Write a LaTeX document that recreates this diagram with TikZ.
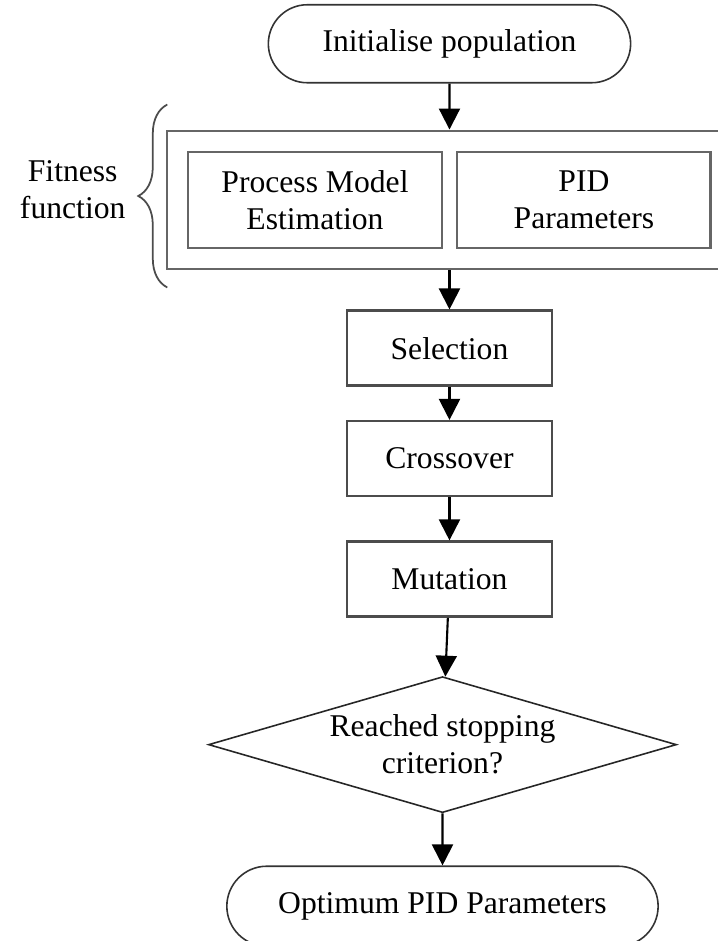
\documentclass[tikz,border=0pt]{standalone}
\usepackage{fontspec}
\setmainfont{Liberation Serif}
\usetikzlibrary{positioning,fit,calc,shapes.misc,shapes.geometric,arrows.meta,decorations.pathreplacing}

\begin{document}
\begin{tikzpicture}[
    font=\fontsize{18pt}{21pt}\selectfont,
    terminal/.style={rounded rectangle, draw=black!80, line width=0.9pt, minimum height=1.56cm},
    procbox/.style={rectangle, draw=black!70, line width=1.4pt, minimum width=4.1cm, minimum height=1.5cm},
    inbox/.style={rectangle, draw=black!60, line width=1.4pt, align=center, minimum width=5.07cm, minimum height=1.92cm},
    outbox/.style={rectangle, draw=black!60, line width=1.4pt, inner sep=0.4cm},
    decision/.style={diamond, draw=black!85, line width=0.9pt, align=center, aspect=3.44, inner sep=0pt, minimum width=9.36cm, minimum height=2.72cm},
    flow/.style={-{Triangle[length=0.42cm,width=0.42cm]}, line width=1.2pt}
  ]
  \useasboundingbox (0,0) rectangle (14.34,-18.82);

  \node (pme) [inbox] at (6.30,-4.00) {Process Model\\Estimation};
  \node (pid) [inbox, right=0.26cm of pme] {PID\\Parameters};
  \node (fit) [outbox, fit=(pme)(pid)] {};
  \node (init) [terminal, minimum width=7.48cm, above=0.92cm of fit] {Initialise population};
  \node (sel) [procbox, below=0.78cm of fit] {Selection};
  \node (cross) [procbox, below=0.66cm of sel] {Crossover};
  \node (mut) [procbox, below=0.86cm of cross] {Mutation};
  \node (stop) [decision, below=1.16cm of mut, xshift=-0.14cm] {Reached stopping\\criterion?};
  \node (opt) [terminal, minimum width=8.86cm, minimum height=1.6cm, below=1.04cm of stop] {Optimum PID Parameters};

  % brace round the fitness function
  \coordinate (bb) at ($(fit.south west)+(0.03,-0.34)$);
  \coordinate (bt) at ($(fit.north west)+(0.03,0.5)$);
  \draw[decorate, decoration={brace, amplitude=0.58cm}, draw=black!70, line width=1pt]
    (bb) -- (bt) node (fitlbl) [midway, left=0.82cm, yshift=0.12cm, inner sep=0pt, align=center] {Fitness\\function};

  \path[flow] (init) edge (fit)
              (fit) edge (sel)
              (sel) edge (cross)
              (cross) edge (mut)
              (mut) edge (stop)
              (stop) edge (opt)
              ;
\end{tikzpicture}
\end{document}
